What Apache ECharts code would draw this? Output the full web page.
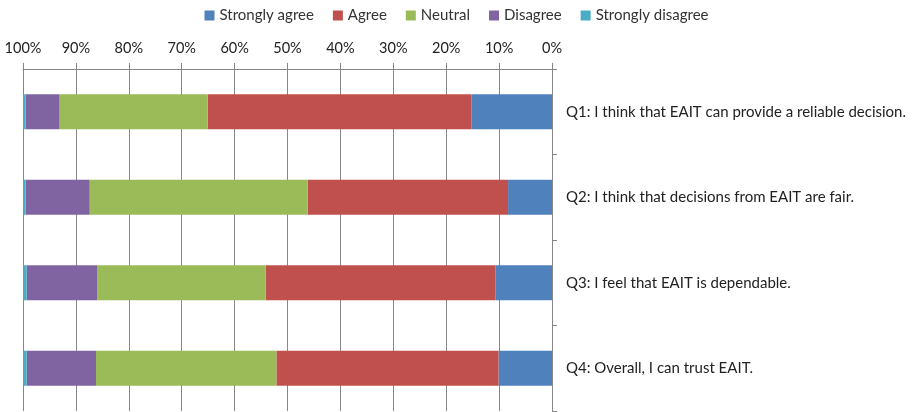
<!DOCTYPE html>
<html><head><meta charset="utf-8">
<script src="https://cdn.jsdelivr.net/npm/echarts@6/dist/echarts.min.js"></script>
<style>html,body{margin:0;padding:0;background:#fff}#c{width:913px;height:412px}</style>
</head><body><div id="c"></div>
<script>
const categories = [
  "Q1: I think that EAIT can provide a reliable decision.",
  "Q2: I think that decisions from EAIT are fair.",
  "Q3: I feel that EAIT is dependable.",
  "Q4: Overall, I can trust EAIT."
];
const seriesNames = ["Strongly agree", "Agree", "Neutral", "Disagree", "Strongly disagree"];
const stronglyAgree = [15.2, 8.3, 10.7, 10.1];
const agree = [49.9, 37.9, 43.4, 42.0];
const neutral = [28.0, 41.2, 31.9, 34.1];
const disagree = [6.4, 12.1, 13.3, 13.1];
const stronglyDisagree = [0.5, 0.5, 0.7, 0.7];
const xTicks = [0, 10, 20, 30, 40, 50, 60, 70, 80, 90, 100];

const colors = ["#4F81BD", "#C0504D", "#9BBB59", "#8064A2", "#4BACC6"];
const values = [stronglyAgree, agree, neutral, disagree, stronglyDisagree];
const font = "Lato, 'Open Sans', sans-serif";

const chart = echarts.init(document.getElementById('c'), null, {renderer: 'canvas'});
chart.setOption({
  animation: false,
  color: colors,
  legend: {
    top: 3, left: 'center',
    itemWidth: 10, itemHeight: 10, itemGap: 19,
    icon: 'rect',
    textStyle: {fontFamily: font, fontSize: 15, color: '#333'},
    data: seriesNames
  },
  grid: {left: 23, right: 361, top: 69, bottom: 1, containLabel: false},
  xAxis: {
    type: 'value', min: 0, max: 100, interval: 10, inverse: true, position: 'top',
    axisLine: {show: true, lineStyle: {color: '#878787', width: 1}},
    axisTick: {show: true, length: 6, lineStyle: {color: '#878787'}},
    splitLine: {show: true, lineStyle: {color: '#878787', width: 1}},
    axisLabel: {formatter: v => xTicks.includes(v) ? v + '%' : '', fontFamily: font, fontSize: 14.5, color: '#222', margin: 13}
  },
  yAxis: {
    type: 'category', data: categories, inverse: true, position: 'right',
    axisLine: {show: true, lineStyle: {color: '#878787', width: 1}},
    axisTick: {show: true, length: 5, lineStyle: {color: '#878787'}},
    axisLabel: {fontFamily: font, fontSize: 15, color: '#222', margin: 14, align: 'left'}
  },
  series: seriesNames.map((n, i) => ({
    name: n, type: 'bar', stack: 'total', data: values[i],
    barWidth: '41%',
    itemStyle: {color: colors[i]}
  }))
});
</script></body></html>
